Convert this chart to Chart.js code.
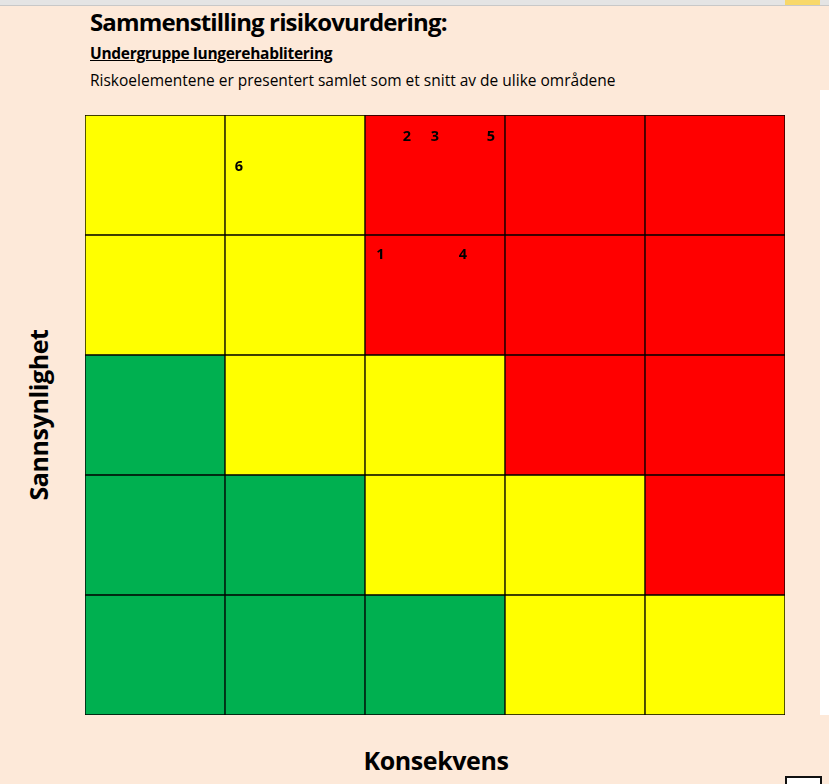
<!DOCTYPE html>
<html>
<head>
<meta charset="utf-8">
<script src="https://cdn.jsdelivr.net/npm/chart.js@4.4.1/dist/chart.umd.min.js"></script>
<style>
  html,body{margin:0;padding:0;background:#FDE9D9;}
  body{width:829px;height:784px;position:relative;overflow:hidden;font-family:"Open Sans",sans-serif;}
  #wrap{position:absolute;left:0;top:0;width:829px;height:784px;}
  .t{position:absolute;white-space:nowrap;color:#000;}
  #title{left:90px;top:5px;font-size:24px;font-weight:bold;letter-spacing:-0.86px;}
  #sub{left:90px;top:42px;font-size:15.5px;font-weight:bold;text-decoration:underline;letter-spacing:-0.3px;}
  #desc{left:90px;top:69px;font-size:15.5px;letter-spacing:0px;}
  #ylab{left:38px;top:415px;font-size:25px;font-weight:bold;letter-spacing:-0.4px;transform:translate(-50%,-50%) rotate(-90deg);}
  #xlab{left:436px;top:760px;font-size:25px;font-weight:bold;letter-spacing:-0.4px;transform:translate(-50%,-50%);}
  #topstrip{position:absolute;left:0;top:0;width:829px;height:5px;background:#E4E4E4;border-bottom:1px solid #C8C8C8;}
  #topsel{position:absolute;left:785px;top:0;width:35px;height:5px;background:#F8D86A;}
  #white{position:absolute;left:820px;top:90px;width:9px;height:625px;background:#FFFFFF;}
  #box{position:absolute;left:785px;top:776px;width:33px;height:12px;border:2px solid #111;background:#fff;}
</style>
</head>
<body>
<div id="topstrip"></div><div id="topsel"></div><div id="white"></div><div id="box"></div>
<div class="t" id="title">Sammenstilling risikovurdering:</div>
<div class="t" id="sub">Undergruppe lungerehablitering</div>
<div class="t" id="desc">Riskoelementene er presentert samlet som et snitt av de ulike områdene</div>
<div class="t" id="ylab">Sannsynlighet</div>
<div class="t" id="xlab">Konsekvens</div>
<div id="wrap"><canvas id="c" width="829" height="784"></canvas></div>
<script>
// Consequence columns (1..5) and probability rows (1 = bottom .. 5 = top)
const consequence = ["1", "2", "3", "4", "5"];
const probability = [1, 2, 3, 4, 5];
// Risk level per row (bottom row first), per column: G = low, Y = medium, R = high
const levelRow1 = ["G", "G", "G", "Y", "Y"];
const levelRow2 = ["G", "G", "Y", "Y", "R"];
const levelRow3 = ["G", "Y", "Y", "R", "R"];
const levelRow4 = ["Y", "Y", "R", "R", "R"];
const levelRow5 = ["Y", "Y", "R", "R", "R"];
// Risk elements: id, consequence position, probability position (axis units 0..5)
const elementIds = ["1", "2", "3", "4", "5", "6"];
const elementX = [2.11, 2.30, 2.50, 2.70, 2.90, 1.10];
const elementY = [3.84, 4.83, 4.83, 3.84, 4.83, 4.58];

const levelColor = { G: "#00B050", Y: "#FFFF00", R: "#FF0000" };
const rows = [levelRow1, levelRow2, levelRow3, levelRow4, levelRow5];

const barSets = rows.map((r, i) => ({
  type: "bar",
  label: "P" + probability[i],
  data: consequence.map(() => 1),
  backgroundColor: r.map(l => levelColor[l]),
  borderColor: "#000000",
  borderWidth: 1,
  borderSkipped: false,
  barPercentage: 1,
  categoryPercentage: 1,
  grouped: false,
  xAxisID: "x",
  yAxisID: "y",
  order: 2
}));

const pointSet = {
  type: "scatter",
  label: "elements",
  data: elementX.map((x, i) => ({ x: x, y: elementY[i] })),
  pointRadius: 0,
  xAxisID: "x2",
  yAxisID: "y",
  order: 1
};

const labelPlugin = {
  id: "elemLabels",
  afterDatasetsDraw(chart) {
    const meta = chart.getDatasetMeta(chart.data.datasets.length - 1);
    const ctx = chart.ctx;
    ctx.save();
    ctx.font = "bold 14.5px 'Open Sans', sans-serif";
    ctx.fillStyle = "#000";
    ctx.textAlign = "center";
    ctx.textBaseline = "middle";
    meta.data.forEach((p, i) => ctx.fillText(elementIds[i], p.x, p.y + 1));
    ctx.restore();
  }
};

new Chart(document.getElementById("c"), {
  type: "bar",
  data: { labels: consequence, datasets: [...barSets, pointSet] },
  options: {
    responsive: false,
    animation: false,
    layout: { padding: { left: 85, top: 115, right: 44, bottom: 69 } },
    plugins: { legend: { display: false }, tooltip: { enabled: false }, title: { display: false } },
    scales: {
      x: { type: "category", display: false, stacked: true, offset: true },
      x2: { type: "linear", display: false, min: 0, max: 5, offset: false },
      y: { type: "linear", display: false, stacked: true, min: 0, max: 5 }
    }
  },
  plugins: [labelPlugin]
});
</script>
</body>
</html>
